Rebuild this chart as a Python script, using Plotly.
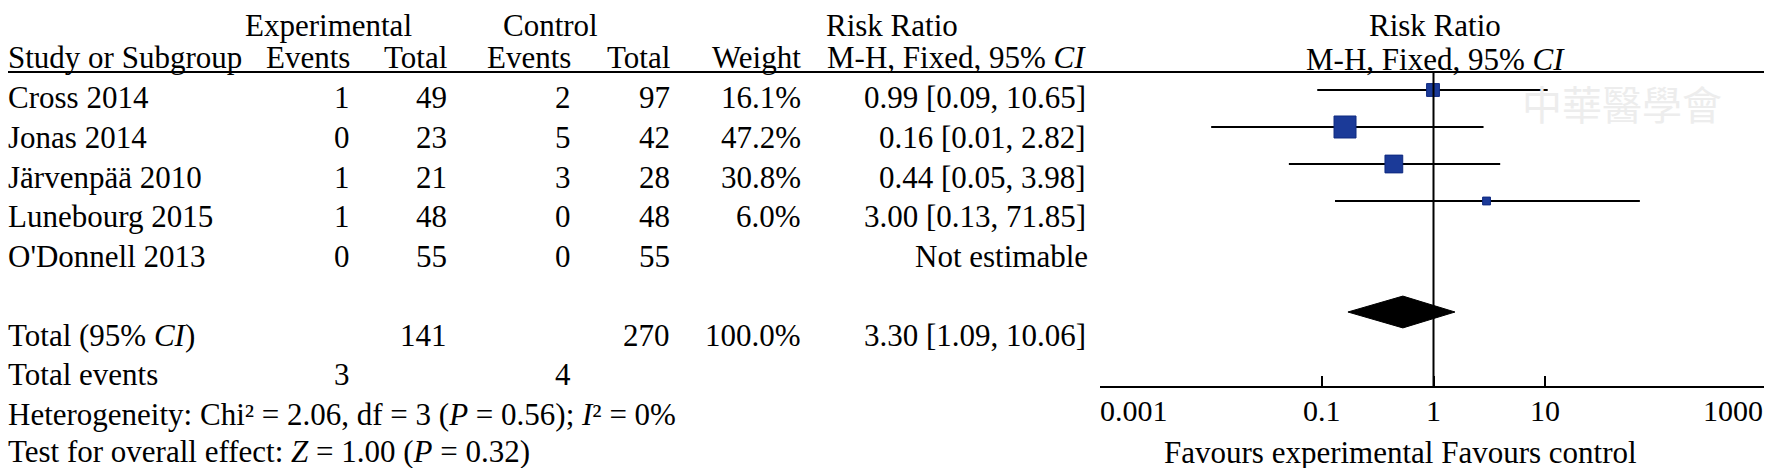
import math
import plotly.graph_objects as go

# ---------------- data ----------------
studies = ["Cross 2014", "Jonas 2014", "Järvenpää 2010", "Lunebourg 2015", "O'Donnell 2013"]
exp_events = [1, 0, 1, 1, 0]
exp_total = [49, 23, 21, 48, 55]
ctrl_events = [2, 5, 3, 0, 0]
ctrl_total = [97, 42, 28, 48, 55]
weights = [16.1, 47.2, 30.8, 6.0, None]
rr = [0.99, 0.16, 0.44, 3.00, None]
rr_lo = [0.09, 0.01, 0.05, 0.13, None]
rr_hi = [10.65, 2.82, 3.98, 71.85, None]

total_exp_n = 141
total_ctrl_n = 270
total_weight = "100.0%"
total_rr_text = "3.30 [1.09, 10.06]"
total_exp_events = 3
total_ctrl_events = 4
# pooled diamond as drawn in the picture
diamond_rr = 0.53
diamond_lo = 0.17
diamond_hi = 1.56

heterogeneity = "Heterogeneity: Chi² = 2.06, df = 3 (<i>P</i> = 0.56); <i>I</i>² = 0%"
overall_effect = "Test for overall effect: <i>Z</i> = 1.00 (<i>P</i> = 0.32)"

tick_values = [0.001, 0.1, 1, 10, 1000]
tick_labels = ["0.001", "0.1", "1", "10", "1000"]
favours_text = "Favours experimental Favours control"
watermark = "中華醫學會"

# ---------------- layout helpers ----------------
W, H = 1772, 468
FONT = "Liberation Serif"
FS = 31
SQ_COLOR = "#1b3a98"


def px(x):
    return x / W


def py(y):
    return 1 - y / H


annotations = []


def txt(text, x, y, anchor="left", size=FS, color="black", xref="paper", family=FONT):
    annotations.append(dict(
        text=text, x=x if xref != "paper" else px(x), y=py(y),
        xref=xref, yref="paper", xanchor=anchor, yanchor="middle",
        showarrow=False, borderpad=0, borderwidth=0,
        font=dict(family=family, size=size, color=color),
    ))


# column right edges (px)
C_EXP_EV, C_EXP_TOT, C_CTL_EV, C_CTL_TOT, C_WT, C_RR = 342, 439, 563, 662, 793, 1078

# headers
H1, H2 = 18, 50
txt("Experimental", 320, H1, "center")
txt("Control", 542, H1, "center")
txt("Risk Ratio", 818, H1, "left")
txt("Risk Ratio", 1427, H1, "center")
txt("Study or Subgroup", 0, H2, "left")
txt("Events", C_EXP_EV, H2, "right")
txt("Total", C_EXP_TOT, H2, "right")
txt("Events", C_CTL_EV, H2, "right")
txt("Total", C_CTL_TOT, H2, "right")
txt("Weight", C_WT, H2, "right")
txt("M-H, Fixed, 95% <i>CI</i>", C_RR, H2, "right")
txt("M-H, Fixed, 95% <i>CI</i>", 1427, H2 + 1, "center")

ROW0, ROWH = 90, 39.5
for i, name in enumerate(studies):
    y = ROW0 + ROWH * i
    txt(name, 0, y, "left")
    txt(str(exp_events[i]), C_EXP_EV, y, "right")
    txt(str(exp_total[i]), C_EXP_TOT, y, "right")
    txt(str(ctrl_events[i]), C_CTL_EV, y, "right")
    txt(str(ctrl_total[i]), C_CTL_TOT, y, "right")
    if weights[i] is not None:
        txt(f"{weights[i]:.1f}%", C_WT, y, "right")
        txt(f"{rr[i]:.2f} [{rr_lo[i]:.2f}, {rr_hi[i]:.2f}]", C_RR, y, "right")
    else:
        txt("Not estimable", C_RR + 2, y, "right")

y_tot = ROW0 + ROWH * 6
txt("Total (95% <i>CI</i>)", 0, y_tot, "left")
txt(str(total_exp_n), C_EXP_TOT, y_tot, "right")
txt(str(total_ctrl_n), C_CTL_TOT, y_tot, "right")
txt(total_weight, C_WT, y_tot, "right")
txt(total_rr_text, C_RR, y_tot, "right")

y_ev = ROW0 + ROWH * 7
txt("Total events", 0, y_ev, "left")
txt(str(total_exp_events), C_EXP_EV, y_ev, "right")
txt(str(total_ctrl_events), C_CTL_EV, y_ev, "right")
txt(heterogeneity, 0, ROW0 + ROWH * 8, "left")
txt(overall_effect, 0, ROW0 + ROWH * 9 - 2, "left")

# faint watermark
txt(watermark, 1614, 95, "center", size=40, color="#ededed", family="Noto Sans CJK TC")

# tick labels placed through the log axis scale
for i, (v, lab) in enumerate(zip(tick_values, tick_labels)):
    anchor = "left" if i == 0 else ("right" if i == len(tick_values) - 1 else "center")
    shift = -4 if anchor == "right" else 0
    annotations.append(dict(
        text=lab, x=math.log10(v), y=py(402), xref="x", yref="paper",
        xanchor=anchor, yanchor="middle", showarrow=False, borderpad=0, borderwidth=0,
        xshift=shift, font=dict(family=FONT, size=30, color="black"),
    ))
txt(favours_text, 1392, 444, "center")

# ---------------- forest plot ----------------
fig = go.Figure()
for i in range(len(studies)):
    if rr[i] is None:
        continue
    fig.add_trace(go.Scatter(
        x=[rr_lo[i], rr_hi[i]], y=[i, i], mode="lines",
        line=dict(color="black", width=2), hoverinfo="skip", showlegend=False,
    ))
fig.add_trace(go.Scatter(
    x=[r for r in rr if r is not None],
    y=[i for i, r in enumerate(rr) if r is not None],
    mode="markers",
    marker=dict(symbol="square", color=SQ_COLOR, opacity=1,
                size=[3.2 * math.sqrt(w) for w in weights if w is not None],
                line=dict(color="#0f2a80", width=1)),
    showlegend=False,
))
d_row, d_half = 6, 0.43
fig.add_trace(go.Scatter(
    x=[diamond_lo, diamond_rr, diamond_hi, diamond_rr, diamond_lo],
    y=[d_row, d_row - d_half, d_row, d_row + d_half, d_row],
    mode="lines", fill="toself", fillcolor="black",
    line=dict(color="black", width=1), showlegend=False,
))
fig.add_trace(go.Scatter(
    x=[1, 1], y=[-0.5, 8], mode="lines",
    line=dict(color="black", width=2), showlegend=False,
))

fig.update_layout(
    width=W, height=H, autosize=False,
    margin=dict(l=0, r=0, t=0, b=0),
    paper_bgcolor="white", plot_bgcolor="white",
    xaxis=dict(type="log", range=[-3, 3], domain=[1092 / W, 1759 / W],
               tickvals=tick_values, ticks="inside", ticklen=10, tickwidth=2,
               tickcolor="black", showline=True, linecolor="black", linewidth=2,
               showticklabels=False, showgrid=False, zeroline=False, fixedrange=True),
    yaxis=dict(range=[8, -0.5], domain=[py(378), py(63.5)], visible=False,
               fixedrange=True),
    shapes=[dict(type="line", xref="paper", yref="paper", x0=0, x1=1,
                 y0=py(64), y1=py(64), line=dict(color="black", width=2))],
    annotations=annotations,
    showlegend=False,
)

fig.write_html("out.html")
